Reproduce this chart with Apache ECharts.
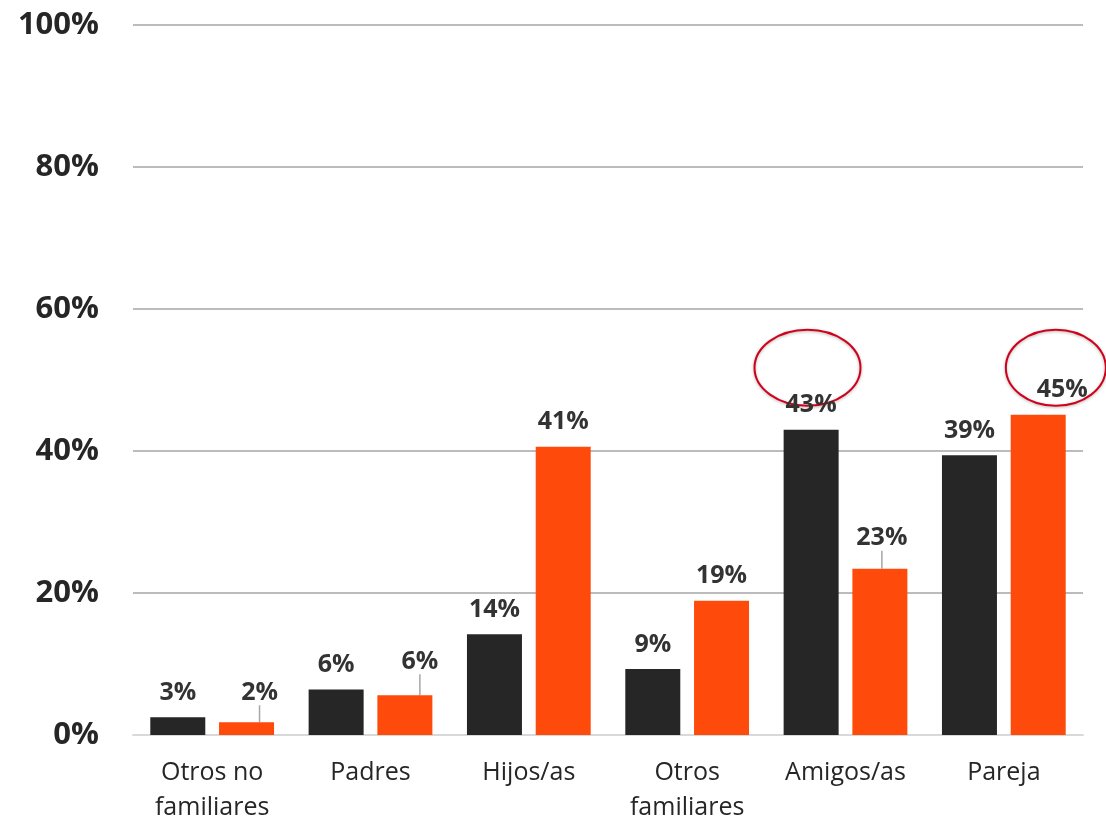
<!DOCTYPE html>
<html>
<head>
<meta charset="utf-8">
<script src="https://cdn.jsdelivr.net/npm/echarts@6/dist/echarts.min.js"></script>
<style>
  html, body { margin: 0; padding: 0; background: #fff; }
  #chart { width: 1106px; height: 822px; }
</style>
</head>
<body>
<div id="chart"></div>
<script>
const categories = ['Otros no\nfamiliares', 'Padres', 'Hijos/as', 'Otros\nfamiliares', 'Amigos/as', 'Pareja'];
const seriesA = [2.5, 6.4, 14.2, 9.3, 43.0, 39.4];
const seriesB = [1.8, 5.6, 40.6, 18.9, 23.4, 45.1];
const yTicks = [0, 20, 40, 60, 80, 100];

// label nudges (dx, dy) for the orange series, as in the original
const shiftB = [[13, -5], [15, -9], [0, 0], [0, 0], [2, -6], [24, 0]];
const withLine = [true, true, false, false, true, false];

const chart = echarts.init(document.getElementById('chart'));
const font = '"Open Sans", "Noto Sans", sans-serif';

const labelStyle = {
  show: true,
  position: 'top',
  distance: 12,
  fontFamily: font,
  fontWeight: 'bold',
  fontSize: 25,
  color: '#333333',
  formatter: p => Math.round(p.value) + '%'
};

const option = {
  animation: false,
  grid: { left: 133, right: 23, top: 25, bottom: 87, containLabel: false, outerBoundsMode: 'none' },
  xAxis: {
    type: 'category',
    data: categories,
    axisLine: { show: true, lineStyle: { color: '#d9d9d9', width: 2 } },
    axisTick: { show: false },
    axisLabel: {
      fontFamily: font,
      fontSize: 25,
      color: '#262626',
      lineHeight: 35,
      margin: 20
    }
  },
  yAxis: {
    type: 'value',
    min: yTicks[0],
    max: yTicks[yTicks.length - 1],
    interval: 20,
    axisLine: { show: false },
    axisTick: { show: false },
    axisLabel: {
      fontFamily: font,
      fontWeight: 'bold',
      fontSize: 31,
      color: '#262626',
      margin: 34,
      formatter: v => v + '%'
    },
    splitLine: { lineStyle: { color: '#a6a6a6', width: 1.5 } }
  },
  series: [
    {
      type: 'bar',
      data: seriesA,
      barWidth: 55,
      barGap: '25%',
      itemStyle: { color: '#262626' },
      label: labelStyle
    },
    {
      type: 'bar',
      data: seriesB.map((v, i) => ({
        value: v,
        labelLine: { show: withLine[i], lineStyle: { color: '#a6a6a6', width: 1.5 } }
      })),
      barWidth: 55,
      itemStyle: { color: '#fe4a0a' },
      label: labelStyle,
      labelLayout: p => ({ dx: shiftB[p.dataIndex][0], dy: shiftB[p.dataIndex][1] })
    }
  ]
};
chart.setOption(option);

// red annotation ellipses around the two highlighted labels
const c1 = chart.convertToPixel({ seriesIndex: 0 }, [4, seriesA[4]]);
const c2 = chart.convertToPixel({ seriesIndex: 1 }, [5, seriesB[5]]);
const ringStyle = {
  fill: 'none', stroke: '#d0021b', lineWidth: 2,
  shadowBlur: 3, shadowColor: 'rgba(0,0,0,0.3)', shadowOffsetY: 1
};
chart.setOption({
  graphic: [
    { type: 'ellipse', shape: { cx: c1[0] - 38, cy: c1[1] - 62, rx: 53, ry: 38 }, style: ringStyle },
    { type: 'ellipse', shape: { cx: c2[0] + 52, cy: c2[1] - 47, rx: 50, ry: 38 }, style: ringStyle }
  ]
});
</script>
</body>
</html>
